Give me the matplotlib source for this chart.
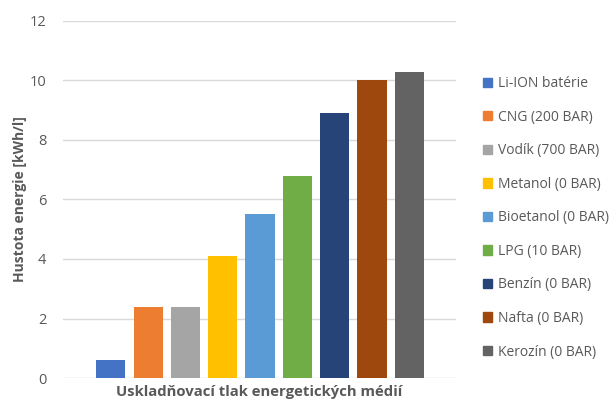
import matplotlib.pyplot as plt
from matplotlib.patches import Patch

labels = ["Li-ION batérie", "CNG (200 BAR)", "Vodík (700 BAR)", "Metanol (0 BAR)",
          "Bioetanol (0 BAR)", "LPG (10 BAR)", "Benzín (0 BAR)", "Nafta (0 BAR)",
          "Kerozín (0 BAR)"]
values = [0.6, 2.4, 2.4, 4.1, 5.5, 6.8, 8.9, 10.0, 10.3]
colors = ["#4472C4", "#ED7D31", "#A5A5A5", "#FFC000", "#5B9BD5",
          "#70AD47", "#264478", "#9E480E", "#636363"]

txt = "#595959"
plt.rcParams["font.family"] = ["Open Sans", "DejaVu Sans"]

fig = plt.figure(figsize=(6.14, 4.03), dpi=100)
ax = fig.add_axes([0.1026, 0.062, 0.640, 0.886])

x = range(len(values))
ax.bar(x, values, width=0.78, color=colors, zorder=3)

ax.set_ylim(0, 12)
ax.set_xlim(-1.28, 9.25)
ax.set_yticks(range(0, 13, 2))
ax.set_xticks([])
ax.yaxis.grid(True, color="#d9d9d9", linewidth=1, zorder=0)
for s in ax.spines.values():
    s.set_visible(False)
ax.tick_params(axis="y", length=0, pad=12, labelsize=10.5, labelcolor=txt)

ax.set_ylabel("Hustota energie [kWh/l]", fontsize=10, fontweight="bold", color=txt, labelpad=2)
ax.set_xlabel("Uskladňovací tlak energetických médií", fontsize=10.7, fontweight="bold",
              color=txt, labelpad=5)

handles = [Patch(color=c) for c in colors]
fig.legend(handles, labels, loc="upper left", bbox_to_anchor=(0.787, 0.811),
           frameon=False, fontsize=10, labelcolor=txt, handlelength=0.65, handleheight=0.65,
           handletextpad=0.4, labelspacing=1.335, borderpad=0, borderaxespad=0)

fig.savefig("out.png", dpi=100)
